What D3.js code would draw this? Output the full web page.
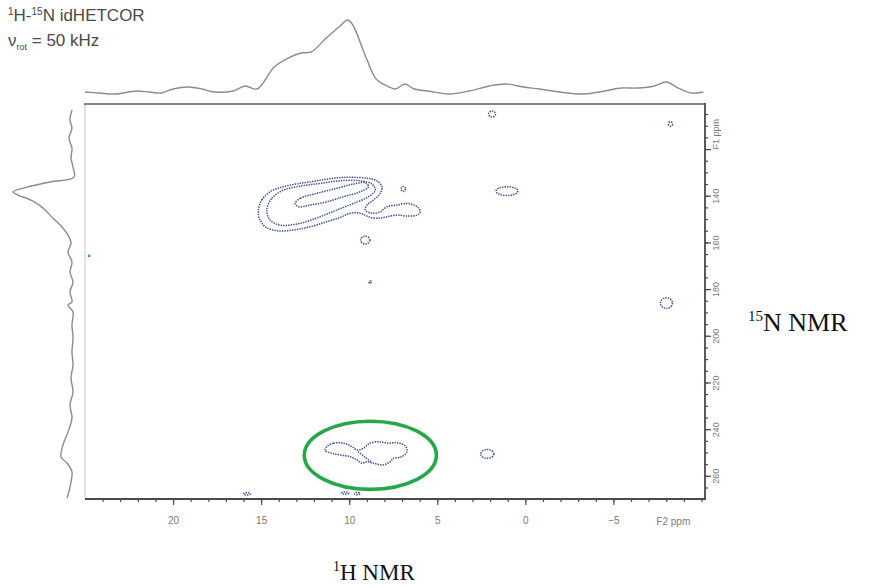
<!DOCTYPE html>
<html>
<head>
<meta charset="utf-8">
<script src="https://cdn.jsdelivr.net/npm/d3@7"></script>
<style>
  body { margin: 0; background: #fff; }
  svg { display: block; }
</style>
</head>
<body>
<svg id="chart" width="875" height="588"></svg>
<script>
// 1H (F2) projection trace: [ppm, relative intensity]
const f2Projection = [
  [25.0, .014], [24.2, 0], [23.24, -.014], [22.1, .027], [21.36, .014], [20.68, 0],
  [20.0, .055], [19.15, .082], [18.35, .055], [17.67, .014], [16.59, .027], [15.91, .096],
  [15.23, .055], [14.26, .356], [13.47, .479], [12.73, .548], [12.16, .562], [11.36, .74],
  [10.51, .918], [10.11, 1.0], [9.83, .945], [9.03, .479], [8.47, .192], [7.84, .096],
  [7.39, .055], [6.82, .123], [6.31, .055], [5.51, .027], [4.32, -.014], [3.18, .027],
  [2.05, .096], [1.08, .123], [0.11, .082], [-0.80, .055], [-1.93, .014], [-3.35, -.014],
  [-4.49, .027], [-5.45, .068], [-6.36, .068], [-7.33, .096], [-8.01, .151], [-8.69, .068],
  [-9.43, 0], [-10.11, .014]
];

// 15N (F1) projection trace: [ppm, relative intensity]
const f1Projection = [
  [103.3, .017], [107.6, .05], [111.0, .017], [115.3, .067], [119.6, .017], [123.9, .033],
  [127.7, 0], [132.0, -.017], [134.1, .383], [136.3, .767], [138.4, 1.0], [139.7, .917],
  [142.3, .667], [145.3, .5], [149.6, .333], [153.4, .183], [156.9, .083], [160.3, .033],
  [164.1, .083], [168.4, .017], [172.7, .05], [177.0, 0], [181.2, .05], [185.5, .017],
  [186.8, .083], [189.8, 0], [195.4, .017], [200.9, 0], [206.9, .017], [212.5, 0],
  [218.1, .033], [224.1, 0], [229.6, .05], [235.2, .017], [241.2, .083], [246.8, .167],
  [251.9, .2], [254.5, .1], [258.3, .017], [262.6, .033], [268.2, .083], [269.5, .1]
];

// Cross-peak contours, closed outlines: [F2 ppm, F1 ppm]
const contourOuter = [
  [15.15, 146.1], [14.96, 141.8], [14.49, 138.3], [13.73, 136.1], [12.78, 134.7], [11.84, 133.6],
  [10.89, 132.5], [9.94, 132.1], [8.99, 132.5], [8.43, 133.6], [8.14, 136.1], [8.24, 139.0],
  [8.62, 141.8], [8.99, 144.0], [9.09, 146.1], [8.71, 147.5], [8.24, 146.9], [7.86, 144.7],
  [7.29, 144.0], [6.72, 143.3], [6.15, 144.7], [5.97, 146.9], [6.15, 148.3], [6.72, 148.7],
  [7.29, 148.3], [7.86, 149.0], [8.43, 149.7], [8.90, 149.0], [9.38, 147.5], [9.94, 147.5],
  [10.51, 149.3], [11.27, 151.1], [12.22, 153.3], [13.17, 154.7], [14.11, 155.0], [14.77, 153.3],
  [15.10, 149.7]
];
const contourMiddle = [
  [14.68, 146.1], [14.39, 141.1], [13.73, 137.6], [12.78, 135.9], [11.65, 134.7], [10.51, 133.6],
  [9.38, 133.6], [8.71, 135.0], [8.52, 137.6], [8.90, 140.4], [9.76, 143.3], [10.70, 146.1],
  [11.65, 149.0], [12.78, 151.8], [13.92, 152.6], [14.49, 150.4]
];
const contourInner = [
  [13.07, 143.3], [12.78, 141.1], [11.84, 139.0], [10.70, 136.8], [9.76, 135.0], [9.09, 134.4],
  [8.90, 136.1], [9.38, 138.3], [10.32, 140.4], [11.27, 142.6], [12.22, 144.0], [12.88, 144.7]
];
const contourLow = [
  [11.27, 247.5], [10.89, 246.0], [10.32, 246.0], [9.85, 247.5], [9.56, 248.9], [9.19, 248.2],
  [8.81, 246.0], [8.34, 245.4], [7.77, 246.0], [7.29, 245.8], [6.82, 247.2], [6.72, 249.6],
  [7.01, 251.8], [7.48, 252.5], [7.67, 253.9], [8.05, 255.3], [8.62, 254.6], [8.99, 253.9],
  [9.28, 254.6], [9.56, 253.2], [9.94, 251.8], [10.51, 251.1], [10.98, 250.3], [11.36, 249.2]
];
const contourLowInner = [[9.50, 249.6], [9.10, 252.0], [8.75, 254.0]];

// Small isolated peaks: [F2 ppm, F1 ppm, half-width F2, half-width F1]
const spots = [
  [1.89, 105.0, .2, 1.3], [-8.24, 109.3, .12, 1.0], [6.93, 137.1, .12, 1.1],
  [1.04, 138.0, .62, 1.9], [9.09, 159.0, .26, 1.7], [8.81, 177.0, .06, .6],
  [-8.01, 186.0, .34, 2.3], [2.16, 250.6, .37, 1.9],
  [15.8, 267.7, .2, .5], [10.23, 267.4, .2, .5], [9.55, 267.6, .15, .5]
];
const strayPeak = [24.77, 165.8, .08, .6];

// Highlighted cross-peak region: [F2 centre, F1 centre, F2 radius, F1 radius]
const highlight = [8.8, 251.2, 3.75, 14.6];

// Axis ticks
const f2MajorTicks = [20, 15, 10, 5, 0, -5];
const f2MinorTicks = d3.range(-10, 25, 1);
const f1MajorTicks = [140, 160, 180, 200, 220, 240, 260];
const f1MinorTicks = d3.range(105, 270, 5);

const svg = d3.select("#chart");
const FONT = "'Liberation Sans', Arial, sans-serif";
const SERIF = "'Liberation Serif', 'Times New Roman', serif";

const x = d3.scaleLinear().domain([25, -10.2]).range([85, 705]);
const y = d3.scaleLinear().domain([100.7, 269.5]).range([104, 498]);
const topY = d3.scaleLinear().domain([0, 1]).range([93, 20]);
const leftX = d3.scaleLinear().domain([0, 1]).range([73, 13]);

// Frame
svg.append("line").attr("x1", x(25)).attr("x2", x(25)).attr("y1", y(100.7)).attr("y2", y(269.5))
  .attr("stroke", "#c4c4c4").attr("stroke-width", 1);
svg.append("line").attr("x1", x(25) - 1).attr("x2", x(-10.2)).attr("y1", y(100.7)).attr("y2", y(100.7))
  .attr("stroke", "#5a5a5a").attr("stroke-width", 1.6);

// Projections
svg.append("path").datum(f2Projection)
  .attr("d", d3.line().x(d => x(d[0])).y(d => topY(d[1])).curve(d3.curveCatmullRom))
  .attr("fill", "none").attr("stroke", "#8c8c8c").attr("stroke-width", 1.4);
svg.append("path").datum(f1Projection)
  .attr("d", d3.line().x(d => leftX(d[1])).y(d => y(d[0])).curve(d3.curveCatmullRom))
  .attr("fill", "none").attr("stroke", "#8c8c8c").attr("stroke-width", 1.4);

// Contours
const contourColor = "#3c4d8c";
const closed = d3.line().x(d => x(d[0])).y(d => y(d[1])).curve(d3.curveCatmullRomClosed);
const open = d3.line().x(d => x(d[0])).y(d => y(d[1])).curve(d3.curveCatmullRom);
const contours = svg.append("g").attr("fill", "none").attr("stroke", contourColor)
  .attr("stroke-width", 1.5).attr("stroke-dasharray", "1.4 1.1");
[contourOuter, contourMiddle, contourInner, contourLow].forEach(c => {
  contours.append("path").datum(c).attr("d", closed);
});
contours.append("path").datum(contourLowInner).attr("d", open);
contours.selectAll("ellipse").data(spots).join("ellipse")
  .attr("cx", d => x(d[0])).attr("cy", d => y(d[1]))
  .attr("rx", d => Math.abs(x(d[0] + d[2]) - x(d[0])))
  .attr("ry", d => Math.abs(y(d[1] + d[3]) - y(d[1])));
svg.append("ellipse")
  .attr("cx", x(strayPeak[0])).attr("cy", y(strayPeak[1]))
  .attr("rx", Math.abs(x(strayPeak[0] + strayPeak[2]) - x(strayPeak[0])))
  .attr("ry", Math.abs(y(strayPeak[1] + strayPeak[3]) - y(strayPeak[1])))
  .attr("fill", "#3a9a8c");

// Highlight ring
svg.append("ellipse")
  .attr("cx", x(highlight[0])).attr("cy", y(highlight[1]))
  .attr("rx", Math.abs(x(highlight[0] + highlight[2]) - x(highlight[0])))
  .attr("ry", Math.abs(y(highlight[1] + highlight[3]) - y(highlight[1])))
  .attr("fill", "none").attr("stroke", "#25a847").attr("stroke-width", 3.6);

// Bottom (F2) axis
const bottom = svg.append("g").attr("transform", `translate(0,${y(269.5) + 1})`);
bottom.append("g").call(d3.axisBottom(x).tickValues(f2MinorTicks).tickSize(3).tickFormat(""))
  .call(g => g.select(".domain").remove());
bottom.append("g").call(d3.axisBottom(x).tickValues(f2MajorTicks).tickSize(6).tickPadding(12)
    .tickFormat(d => d < 0 ? "\u2212" + Math.abs(d) : d))
  .call(g => g.select(".domain").remove())
  .call(g => g.selectAll("text").attr("font-family", FONT).attr("font-size", 10).attr("fill", "#7a7a7a"));
bottom.selectAll(".tick line").attr("stroke", "#4a4a4a").attr("stroke-width", 1.2);
bottom.append("line").attr("x1", x(25)).attr("x2", x(-10.2) + 1).attr("stroke", "#4a4a4a").attr("stroke-width", 1.8);
bottom.append("text").attr("x", x(-8.4)).attr("y", 25.5).attr("text-anchor", "middle")
  .attr("font-family", FONT).attr("font-size", 10).attr("fill", "#7a7a7a").text("F2 ppm");

// Right (F1) axis
const right = svg.append("g").attr("transform", `translate(${x(-10.2)},0)`);
right.append("g").call(d3.axisRight(y).tickValues(f1MinorTicks).tickSize(3).tickFormat(""))
  .call(g => g.select(".domain").remove());
right.append("g").call(d3.axisRight(y).tickValues([120, ...f1MajorTicks]).tickSize(6)
    .tickFormat(d => d === 120 ? "F1 ppm" : d))
  .call(g => g.select(".domain").remove())
  .call(g => g.selectAll("text")
    .attr("x", null).attr("dy", null)
    .attr("transform", "translate(11,0) rotate(-90)")
    .attr("text-anchor", d => d === 120 ? "start" : "middle")
    .attr("dominant-baseline", "central")
    .attr("font-family", FONT).attr("font-size", 9).attr("fill", "#7a7a7a"));
right.selectAll(".tick line").attr("stroke", "#4a4a4a").attr("stroke-width", 1.2);
right.append("line").attr("y1", y(100.7) - 1).attr("y2", y(269.5) + 2).attr("stroke", "#4a4a4a").attr("stroke-width", 1.8);

// Experiment caption
const cap = svg.append("text").attr("x", 8).attr("y", 21).attr("font-family", FONT)
  .attr("font-size", 17).attr("fill", "#4a4a4a");
cap.append("tspan").attr("font-size", 10).attr("dy", -6).text("1");
cap.append("tspan").attr("dy", 6).text("H-");
cap.append("tspan").attr("font-size", 10).attr("dy", -6).text("15");
cap.append("tspan").attr("dy", 6).text("N idHETCOR");
const cap2 = svg.append("text").attr("x", 8).attr("y", 46).attr("font-family", FONT)
  .attr("font-size", 17).attr("fill", "#4a4a4a");
cap2.append("tspan").text("\u03bd");
cap2.append("tspan").attr("font-size", 9).attr("dy", 4).text("rot");
cap2.append("tspan").attr("dy", -4).text(" = 50 kHz");

// Nucleus labels
const nLab = svg.append("text").attr("x", 748).attr("y", 331).attr("font-family", SERIF)
  .attr("font-size", 26).attr("fill", "#111");
nLab.append("tspan").attr("font-size", 15).attr("dy", -10).text("15");
nLab.append("tspan").attr("dy", 10).text("N NMR");
const hLab = svg.append("text").attr("x", 333).attr("y", 580).attr("font-family", SERIF)
  .attr("font-size", 23).attr("fill", "#111");
hLab.append("tspan").attr("font-size", 14).attr("dy", -9).text("1");
hLab.append("tspan").attr("dy", 9).text("H NMR");
</script>
</body>
</html>
